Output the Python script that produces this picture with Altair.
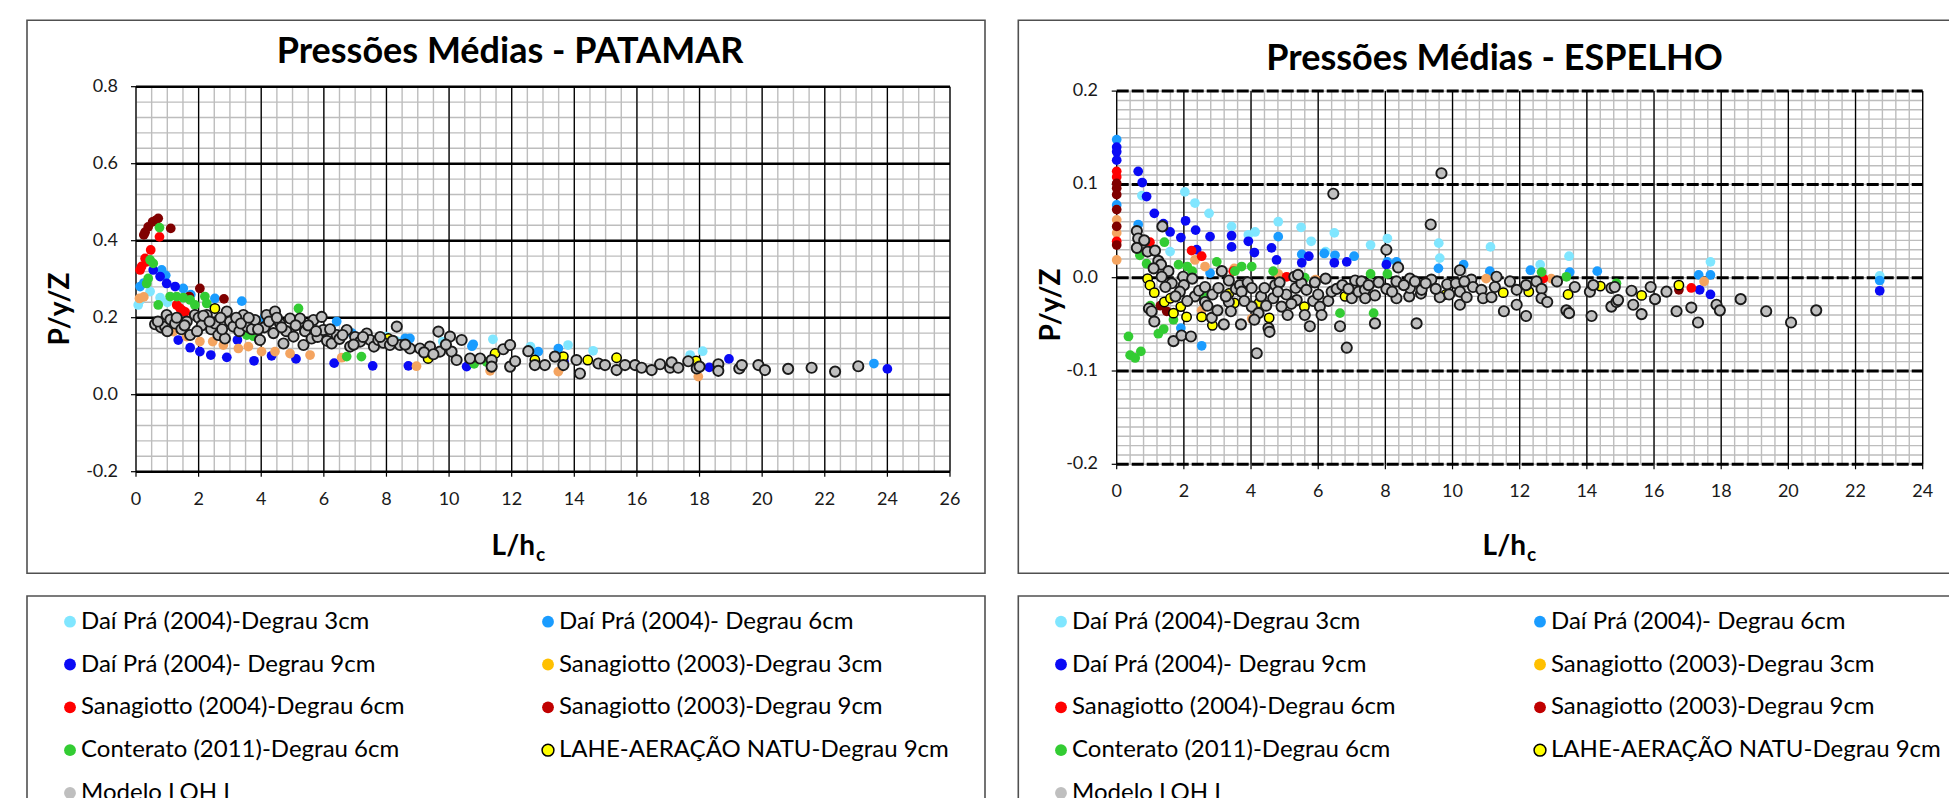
import altair as alt
import numpy as np
import pandas as pd

FONT = "Lato"

SERIES = [
    "Daí Prá (2004)-Degrau 3cm",
    "Daí Prá (2004)- Degrau 6cm",
    "Daí Prá (2004)- Degrau 9cm",
    "Sanagiotto (2003)-Degrau 3cm",
    "Sanagiotto (2004)-Degrau 6cm",
    "Sanagiotto (2003)-Degrau 9cm",
    "Conterato (2011)-Degrau 6cm",
    "LAHE-AERAÇÃO NATU-Degrau 9cm",
    "Modelo LOH I",
]
MARKER_FILL = ["#80E6FF", "#1A9CFF", "#0A0AF5", "#F4A460", "#FF0000", "#800000", "#33CC33", "#FFFF00", "#BFBFBF"]
MARKER_STROKE = ["transparent"] * 7 + ["#000000", "#1A1A1A"]
MARKER_SW = [0] * 7 + [1.5, 1.9]
MARKER_SIZE = [95] * 7 + [88, 105]
LEGEND_FILL = ["#80E6FF", "#1A9CFF", "#0A0AF5", "#FFC000", "#FF0000", "#C00000", "#33CC33", "#FFFF00", "#BFBFBF"]
LEGEND_STROKE = ["transparent"] * 7 + ["#000000", "transparent"]

# ---------------- PATAMAR (left) ----------------
pat_dp3_x = [0.07, 0.13, 0.45, 0.77, 1.0, 8.0, 8.3, 9.8, 11.4, 12.6, 13.8, 14.6, 17.7, 18.1]
pat_dp3_y = [0.233, 0.245, 0.268, 0.252, 0.240, 0.151, 0.140, 0.138, 0.144, 0.125, 0.129, 0.114, 0.103, 0.113]
pat_dp6_x = [0.13, 0.25, 0.82, 0.95, 1.51, 1.75, 2.52, 3.38, 4.1, 6.41, 6.9, 8.6, 8.75, 10.73, 10.77, 12.85, 13.49, 23.57]
pat_dp6_y = [0.281, 0.290, 0.324, 0.310, 0.276, 0.260, 0.250, 0.243, 0.200, 0.190, 0.160, 0.146, 0.146, 0.126, 0.131, 0.112, 0.120, 0.081]
pat_dp9_x = [0.55, 0.77, 0.98, 1.25, 1.35, 1.73, 2.04, 2.39, 2.90, 3.24, 3.77, 4.33, 5.11, 6.33, 7.56, 8.70, 10.56, 13.67, 14.80, 18.31, 18.94, 24.0]
pat_dp9_y = [0.324, 0.307, 0.289, 0.281, 0.142, 0.122, 0.112, 0.103, 0.097, 0.142, 0.088, 0.101, 0.093, 0.082, 0.075, 0.075, 0.073, 0.086, 0.079, 0.071, 0.093, 0.067]
pat_s033_x = [0.11, 0.25, 1.19, 1.62, 2.04, 2.45, 2.79, 3.27, 3.59, 4.01, 4.44, 4.92, 5.56, 6.57, 8.96, 11.31, 13.49, 17.96]
pat_s033_y = [0.250, 0.254, 0.164, 0.151, 0.138, 0.138, 0.129, 0.120, 0.125, 0.112, 0.112, 0.107, 0.103, 0.096, 0.074, 0.062, 0.060, 0.047]
pat_s046_x = [0.13, 0.18, 0.29, 0.34, 0.47, 0.75, 1.30, 1.40, 1.46, 1.57]
pat_s046_y = [0.324, 0.333, 0.354, 0.345, 0.376, 0.410, 0.233, 0.225, 0.220, 0.215]
pat_s039_x = [0.25, 0.29, 0.39, 0.53, 0.62, 0.71, 1.11, 1.70, 2.04, 2.81]
pat_s039_y = [0.415, 0.422, 0.436, 0.449, 0.452, 0.458, 0.432, 0.255, 0.276, 0.249]
pat_con_x = [0.34, 0.39, 0.45, 0.55, 0.71, 0.75, 1.09, 1.30, 1.51, 1.73, 1.88, 2.20, 2.26, 3.54, 3.75, 5.19, 6.73, 7.20, 10.8, 11.2]
pat_con_y = [0.289, 0.302, 0.350, 0.341, 0.233, 0.434, 0.255, 0.255, 0.252, 0.246, 0.233, 0.255, 0.237, 0.155, 0.152, 0.224, 0.099, 0.099, 0.080, 0.085]
pat_lahe_x = [2.52, 3.48, 4.20, 5.40, 6.04, 8.06, 9.33, 11.47, 12.74, 13.65, 14.43, 15.35, 17.89]
pat_lahe_y = [0.224, 0.190, 0.185, 0.168, 0.168, 0.146, 0.094, 0.107, 0.090, 0.099, 0.090, 0.096, 0.088]
pat_loh_x = [0.61, 0.80, 0.93, 0.98, 1.10, 1.25, 1.45, 1.62, 1.73, 1.88,
             2.00, 2.10, 2.26, 2.40, 2.52, 2.63, 2.84, 2.90, 3.00, 3.11,
             3.30, 3.43, 3.54, 3.70, 3.80, 3.96, 4.10, 4.17, 4.39, 4.44,
             4.60, 4.71, 4.80, 4.92, 5.03, 5.24, 5.35, 5.40, 5.61, 5.67,
             5.80, 5.93, 5.98, 6.10, 6.25, 6.41, 6.50, 6.73, 6.84, 7.00,
             7.16, 7.37, 7.48, 7.60, 7.74, 7.90, 8.11, 8.33, 8.43, 8.75,
             9.07, 9.39, 9.66, 9.71, 10.03, 10.08, 10.24, 10.40, 10.67, 10.99,
             11.36, 11.36, 11.73, 11.95, 11.95, 12.11, 12.53, 12.74, 13.06, 13.38,
             13.65, 14.07, 14.18, 14.77, 14.98, 15.35, 15.62, 15.94, 16.15, 16.47,
             16.74, 17.06, 17.11, 17.32, 17.64, 17.91, 18.00, 18.60, 18.60, 19.27,
             19.35, 19.88, 20.09, 20.83, 21.58, 22.33, 23.07,
             0.70, 1.00, 1.30, 1.55, 1.95, 2.15, 2.35, 2.70, 2.75, 3.20,
             3.35, 3.60, 3.90, 4.25, 4.50, 4.65, 5.10, 5.50, 5.75, 6.20,
             6.60, 6.95, 7.25, 7.80, 8.20, 8.60, 9.20, 9.50, 9.90]
pat_loh_y = [0.183, 0.175, 0.177, 0.207, 0.195, 0.185, 0.170, 0.190, 0.155, 0.207,
             0.200, 0.180, 0.207, 0.170, 0.185, 0.155, 0.146, 0.216, 0.190, 0.177,
             0.165, 0.207, 0.177, 0.170, 0.194, 0.142, 0.175, 0.207, 0.160, 0.216,
             0.185, 0.133, 0.165, 0.198, 0.151, 0.198, 0.129, 0.165, 0.146, 0.194,
             0.150, 0.202, 0.168, 0.140, 0.133, 0.155, 0.145, 0.168, 0.125, 0.150,
             0.138, 0.159, 0.142, 0.125, 0.142, 0.135, 0.129, 0.177, 0.129, 0.120,
             0.120, 0.125, 0.164, 0.112, 0.151, 0.112, 0.090, 0.142, 0.094, 0.094,
             0.090, 0.073, 0.118, 0.129, 0.073, 0.087, 0.113, 0.077, 0.077, 0.099,
             0.077, 0.090, 0.055, 0.081, 0.077, 0.064, 0.077, 0.077, 0.070, 0.064,
             0.079, 0.070, 0.084, 0.070, 0.087, 0.068, 0.073, 0.079, 0.062, 0.068,
             0.077, 0.077, 0.064, 0.067, 0.070, 0.060, 0.074,
             0.190, 0.165, 0.200, 0.180, 0.165, 0.205, 0.190, 0.200, 0.170, 0.200,
             0.185, 0.200, 0.170, 0.190, 0.200, 0.175, 0.180, 0.180, 0.165, 0.170,
             0.155, 0.130, 0.150, 0.150, 0.140, 0.130, 0.110, 0.105, 0.130]

# ---------------- ESPELHO (right) ----------------
esp_dp3_x = [0.75, 1.59, 2.03, 2.33, 2.75, 3.42, 3.92, 4.12, 4.81, 5.49, 5.79, 6.22, 6.48, 7.56, 8.06, 9.59, 9.62, 11.13, 12.61, 13.47, 17.68, 22.72]
esp_dp3_y = [0.088, 0.028, 0.092, 0.080, 0.069, 0.055, 0.046, 0.049, 0.060, 0.054, 0.039, 0.028, 0.048, 0.035, 0.042, 0.037, 0.021, 0.033, 0.014, 0.023, 0.017, 0.002]
esp_dp6_x = [0.0, 0.0, 0.64, 1.91, 2.53, 2.78, 4.81, 5.51, 6.18, 6.50, 7.07, 8.06, 8.33, 9.58, 10.33, 11.11, 12.32, 13.49, 14.31, 17.33, 17.68, 22.72]
esp_dp6_y = [0.148, 0.078, 0.057, -0.054, -0.073, 0.005, 0.044, 0.025, 0.026, 0.024, 0.023, 0.017, 0.017, 0.010, 0.014, 0.007, 0.008, 0.006, 0.007, 0.003, 0.003, -0.003]
esp_dp9_x = [0.0, 0.0, 0.0, 0.64, 0.76, 0.89, 1.12, 1.39, 1.59, 1.91, 2.05, 2.35, 2.38, 2.78, 3.42, 3.42, 3.92, 4.10, 4.61, 4.76, 5.51, 5.72, 6.48, 6.85, 8.03, 17.36, 17.68, 22.72]
esp_dp9_y = [0.140, 0.135, 0.126, 0.114, 0.102, 0.087, 0.069, 0.058, 0.049, 0.043, 0.061, 0.051, 0.030, 0.044, 0.045, 0.033, 0.039, 0.027, 0.032, 0.019, 0.016, 0.023, 0.016, 0.017, 0.014, -0.013, -0.018, -0.014]
esp_s033_x = [0.0, 0.0, 0.0, 2.33, 2.53, 2.63, 3.50, 4.02, 4.81, 5.92, 11.00, 12.94, 17.49]
esp_s033_y = [0.062, 0.048, 0.019, 0.019, -0.035, 0.012, 0.010, -0.044, 0.004, -0.002, -0.001, -0.001, -0.004]
esp_s046_x = [0.0, 0.0, 0.0, 0.99, 2.23, 2.53, 3.47, 5.06, 12.70, 17.11]
esp_s046_y = [0.114, 0.108, 0.039, 0.038, 0.029, 0.023, 0.007, 0.001, -0.001, -0.011]
esp_s039_x = [0.0, 0.0, 0.0, 0.0, 0.0, 0.0, 1.30, 1.49, 16.74]
esp_s039_y = [0.101, 0.096, 0.089, 0.073, 0.055, 0.035, -0.030, -0.036, -0.013]
esp_con_x = [0.35, 0.40, 0.55, 0.69, 0.72, 0.89, 1.00, 1.24, 1.40, 1.42, 1.69, 1.84, 2.10, 2.25, 2.60, 2.98, 3.52, 3.72, 4.02, 4.66, 5.60, 6.65, 7.56, 7.65, 8.06, 12.65, 13.39, 14.88]
esp_con_y = [-0.063, -0.083, -0.086, 0.024, -0.079, 0.015, -0.030, -0.060, -0.055, 0.038, -0.045, 0.014, 0.012, 0.007, -0.020, 0.017, 0.007, 0.012, 0.012, 0.007, 0.000, -0.038, 0.004, -0.038, 0.004, 0.006, 0.001, -0.006]
esp_lahe_x = [0.92, 0.99, 1.12, 1.42, 1.60, 1.69, 1.91, 2.08, 2.53, 2.85, 3.34, 3.50, 4.24, 4.54, 5.59, 6.80, 9.80, 11.51, 12.27, 13.44, 14.40, 15.63, 16.74]
esp_lahe_y = [-0.001, -0.008, -0.016, -0.026, -0.022, -0.038, -0.031, -0.042, -0.042, -0.051, -0.017, -0.027, -0.027, -0.043, -0.031, -0.020, -0.018, -0.016, -0.015, -0.018, -0.009, -0.019, -0.008]
esp_loh_x = [0.60, 0.64, 0.60, 0.82, 0.92, 1.14, 1.36, 1.24, 1.32, 1.54,
             1.34, 0.96, 1.04, 1.12, 1.69, 1.93, 2.21, 1.64, 1.98, 2.00,
             1.88, 2.25, 2.33, 2.45, 2.63, 2.63, 2.85, 3.03, 3.13, 2.83,
             3.19, 3.34, 3.34, 3.40, 3.55, 3.70, 3.67, 3.72, 3.90, 4.02,
             4.02, 4.17, 4.22, 4.30, 4.40, 4.52, 4.55, 4.72, 4.66, 4.85,
             4.91, 5.05, 5.09, 5.29, 5.33, 5.36, 5.50, 5.60, 5.65, 5.75,
             5.85, 6.00, 6.05, 6.22, 6.30, 6.40, 6.45, 6.55, 6.65, 6.72,
             6.85, 7.00, 7.10, 7.20, 7.29, 7.39, 7.50, 7.69, 7.69, 8.03,
             8.03, 8.33, 8.33, 8.38, 8.71, 8.73, 8.73, 8.88, 8.93, 9.06,
             9.08, 9.35, 9.37, 9.62, 9.67, 9.84, 10.10, 10.22, 10.22, 10.22,
             10.42, 10.56, 10.61, 10.86, 10.91, 11.16, 11.26, 11.31, 11.53, 11.71,
             11.91, 11.91, 12.19, 12.19, 12.50, 12.65, 12.65, 12.82, 13.11, 13.39,
             13.47, 13.64, 14.09, 14.14, 14.19, 14.73, 14.73, 14.83, 14.88, 14.93,
             15.33, 15.38, 15.63, 15.90, 16.03, 16.37, 16.67, 17.11, 17.31, 17.86,
             17.96, 18.58, 19.34, 20.08, 20.83,
             1.10, 1.45, 1.75, 2.10, 2.70, 3.00, 3.25, 3.80, 4.10, 4.45,
             4.80, 5.20, 5.40, 5.90, 6.10, 6.90, 7.40, 7.80, 8.20, 8.55,
             9.20, 9.50, 9.90, 10.35]
esp_loh_y = [0.050, 0.042, 0.032, 0.040, 0.028, 0.029, 0.055, 0.018, 0.014, 0.007,
             0.001, -0.033, -0.036, -0.047, -0.068, -0.062, -0.063, -0.006, 0.001, -0.008,
             -0.015, -0.001, -0.020, -0.014, -0.010, -0.026, -0.018, -0.011, 0.007, -0.043,
             -0.050, -0.003, -0.026, -0.036, -0.012, -0.050, -0.008, -0.015, -0.005, -0.011,
             -0.031, -0.081, -0.038, -0.020, -0.011, -0.054, -0.058, -0.008, -0.022, -0.005,
             -0.031, -0.018, -0.040, 0.001, -0.011, -0.024, -0.006, -0.040, -0.013, -0.052,
             -0.025, -0.018, -0.031, -0.001, -0.025, -0.015, 0.090, -0.012, -0.052, -0.008,
             -0.075, -0.022, -0.003, -0.015, -0.004, -0.013, -0.008, -0.019, -0.049, 0.030,
             -0.012, -0.004, -0.022, 0.011, -0.020, -0.001, -0.011, -0.004, -0.049, -0.017,
             -0.013, 0.057, -0.002, -0.021, 0.112, -0.007, -0.006, 0.008, -0.015, -0.029,
             -0.021, -0.002, -0.010, -0.013, -0.022, -0.021, -0.010, 0.001, -0.036, -0.004,
             -0.013, -0.029, -0.008, -0.041, -0.004, -0.012, -0.022, -0.026, -0.004, -0.035,
             -0.038, -0.010, -0.015, -0.041, -0.008, -0.011, -0.031, -0.010, -0.026, -0.024,
             -0.014, -0.029, -0.039, -0.010, -0.023, -0.015, -0.036, -0.032, -0.048, -0.029,
             -0.035, -0.023, -0.036, -0.048, -0.035,
             0.010, -0.010, -0.020, -0.025, -0.030, -0.035, -0.020, -0.025, -0.045, -0.030,
             -0.015, -0.028, 0.003, -0.005, -0.040, -0.012, -0.022, -0.005, -0.015, -0.008,
             -0.006, -0.012, -0.018, -0.004]

PAT_SERIES = [(pat_dp3_x, pat_dp3_y), (pat_dp6_x, pat_dp6_y), (pat_dp9_x, pat_dp9_y),
              (pat_s033_x, pat_s033_y), (pat_s046_x, pat_s046_y), (pat_s039_x, pat_s039_y),
              (pat_con_x, pat_con_y), (pat_lahe_x, pat_lahe_y), (pat_loh_x, pat_loh_y)]
ESP_SERIES = [(esp_dp3_x, esp_dp3_y), (esp_dp6_x, esp_dp6_y), (esp_dp9_x, esp_dp9_y),
              (esp_s033_x, esp_s033_y), (esp_s046_x, esp_s046_y), (esp_s039_x, esp_s039_y),
              (esp_con_x, esp_con_y), (esp_lahe_x, esp_lahe_y), (esp_loh_x, esp_loh_y)]

PAT_XTICKS = [0, 2, 4, 6, 8, 10, 12, 14, 16, 18, 20, 22, 24, 26]
PAT_YTICKS = [-0.2, 0.0, 0.2, 0.4, 0.6, 0.8]
PAT_YLABELS = ["-0.2", "0.0", "0.2", "0.4", "0.6", "0.8"]
ESP_XTICKS = [0, 2, 4, 6, 8, 10, 12, 14, 16, 18, 20, 22, 24]
ESP_YTICKS = [-0.2, -0.1, 0.0, 0.1, 0.2]
ESP_YLABELS = ["-0.2", "-0.1", "0.0", "0.1", "0.2"]

BLANK = alt.Data(values=[{"a": 1}])


def box(x1, y1, x2, y2):
    return alt.Chart(BLANK).mark_rect(fillOpacity=0, stroke="#505050", strokeWidth=1.6).encode(
        x=alt.value(x1), x2=alt.value(x2), y=alt.value(y1), y2=alt.value(y2))


def label(text, x, y, size, weight="normal", align="center", baseline="middle", angle=0):
    kw = dict(text=text, fontSize=size, fontWeight=weight, align=align, baseline=baseline,
              font=FONT, color="#000000")
    if angle:
        kw["angle"] = angle
    return alt.Chart(BLANK).mark_text(**kw).encode(x=alt.value(x), y=alt.value(y))


def panel(series, xdom, ydom, xr, yr, mdx, mdy, xticks, yticks, ylabels, hw, hdash, xlab_y, ylab_x):
    xs = alt.Scale(domain=xdom, range=xr, nice=False, zero=False)
    ys = alt.Scale(domain=ydom, range=yr, nice=False, zero=False)

    def X(f):
        return alt.X(f, type="quantitative", scale=xs, axis=None)

    def Y(f):
        return alt.Y(f, type="quantitative", scale=ys, axis=None)

    ybot, ytop = yr
    xl, xrt = xr
    minor_v = pd.DataFrame({"v": np.round(np.arange(xdom[0], xdom[1] + 1e-9, mdx), 4)})
    minor_h = pd.DataFrame({"v": np.round(np.arange(ydom[0], ydom[1] + 1e-9, mdy), 4)})
    major_v = pd.DataFrame({"v": xticks, "lab": [str(t) for t in xticks]})
    major_h = pd.DataFrame({"v": yticks, "lab": ylabels})

    rows = []
    for i, (sx, sy) in enumerate(series):
        for a, b in zip(sx, sy):
            rows.append({"x": a, "y": b, "fill": MARKER_FILL[i], "stroke": MARKER_STROKE[i],
                         "sw": MARKER_SW[i], "size": MARKER_SIZE[i], "k": len(rows)})
    pts = pd.DataFrame(rows)

    hkw = dict(color="#000000", strokeWidth=hw)
    if hdash:
        hkw["strokeDash"] = hdash

    layers = [
        alt.Chart(minor_v).mark_rule(color="#BDBDBD", strokeWidth=1.4).encode(
            x=X("v"), y=alt.value(ytop), y2=alt.value(ybot)),
        alt.Chart(minor_h).mark_rule(color="#BDBDBD", strokeWidth=1.4).encode(
            y=Y("v"), x=alt.value(xl), x2=alt.value(xrt)),
        alt.Chart(major_v).mark_rule(color="#000000", strokeWidth=1.3).encode(
            x=X("v"), y=alt.value(ytop), y2=alt.value(ybot)),
        alt.Chart(major_h).mark_rule(**hkw).encode(
            y=Y("v"), x=alt.value(xl), x2=alt.value(xrt)),
        alt.Chart(major_v).mark_rule(color="#000000", strokeWidth=1.2).encode(
            x=X("v"), y=alt.value(ybot), y2=alt.value(ybot + 5)),
        alt.Chart(major_h).mark_rule(color="#000000", strokeWidth=1.2).encode(
            y=Y("v"), x=alt.value(xl - 5), x2=alt.value(xl)),
        alt.Chart(major_v).mark_text(fontSize=18, font=FONT, color="#1A1A1A", baseline="middle").encode(
            x=X("v"), y=alt.value(xlab_y), text="lab:N"),
        alt.Chart(major_h).mark_text(fontSize=18, font=FONT, color="#1A1A1A", align="right",
                                     baseline="middle").encode(
            y=Y("v"), x=alt.value(ylab_x), text="lab:N"),
        alt.Chart(pts).mark_circle(opacity=1).encode(
            x=X("x"), y=Y("y"),
            fill=alt.Fill("fill:N", scale=None),
            stroke=alt.Stroke("stroke:N", scale=None),
            strokeWidth=alt.StrokeWidth("sw:Q", scale=None),
            size=alt.Size("size:Q", scale=None),
            order=alt.Order("k:Q")),
    ]
    return alt.layer(*layers)


def legend(xr, yr):
    df = pd.DataFrame({"name": SERIES,
                       "col": [i % 2 for i in range(len(SERIES))],
                       "row": [i // 2 for i in range(len(SERIES))],
                       "fill": LEGEND_FILL, "stroke": LEGEND_STROKE})
    xs = alt.Scale(domain=[0, 1], range=xr, nice=False, zero=False)
    ys = alt.Scale(domain=[0, 4], range=yr, nice=False, zero=False)
    enc = dict(x=alt.X("col:Q", scale=xs, axis=None), y=alt.Y("row:Q", scale=ys, axis=None))
    sym = alt.Chart(df).mark_circle(opacity=1, size=140, strokeWidth=1.5).encode(
        fill=alt.Fill("fill:N", scale=None), stroke=alt.Stroke("stroke:N", scale=None), **enc)
    txt = alt.Chart(df).mark_text(align="left", baseline="middle", dx=11, fontSize=24,
                                  font=FONT, color="#000000").encode(text="name:N", **enc)
    return alt.layer(sym, txt)


left = panel(PAT_SERIES, [0, 26], [-0.2, 0.8], [128, 942], [463.7, 78.7], 0.5, 0.04,
             PAT_XTICKS, PAT_YTICKS, PAT_YLABELS, 2.6, None, 491.5, 110)
right = panel(ESP_SERIES, [0, 24], [-0.2, 0.2], [1108.7, 1914.7], [456.3, 83.1], 0.4, 0.01,
              ESP_XTICKS, ESP_YTICKS, ESP_YLABELS, 3, [12, 3], 484, 1090)

chart = alt.layer(
    box(19, 12.3, 977, 565.3),
    box(1010.3, 12.3, 1980, 565.3),
    box(19, 588, 977, 900),
    box(1010.3, 588, 1980, 900),
    left,
    right,
    legend([62, 540], [613.7, 785]),
    legend([1053, 1532], [613.7, 785]),
    label("Pressões Médias - PATAMAR", 502, 43.8, 36, "bold"),
    label("Pressões Médias - ESPELHO", 1486.5, 51.2, 36, "bold"),
    label("P/y/Z", 52.6, 301, 28, "bold", angle=270),
    label("P/y/Z", 1044, 297, 28, "bold", angle=270),
    label("L/h", 527, 547, 28, "bold", align="right", baseline="alphabetic"),
    label("c", 528, 552.5, 19, "bold", align="left", baseline="alphabetic"),
    label("L/h", 1518, 547, 28, "bold", align="right", baseline="alphabetic"),
    label("c", 1519, 552.5, 19, "bold", align="left", baseline="alphabetic"),
).resolve_scale(x="independent", y="independent").properties(
    width=1941, height=790, padding=0, background="white",
    autosize=alt.AutoSizeParams(type="none"),
).configure_view(strokeWidth=0)

chart.save("out.html", embed_options={"renderer": "svg", "actions": False})
